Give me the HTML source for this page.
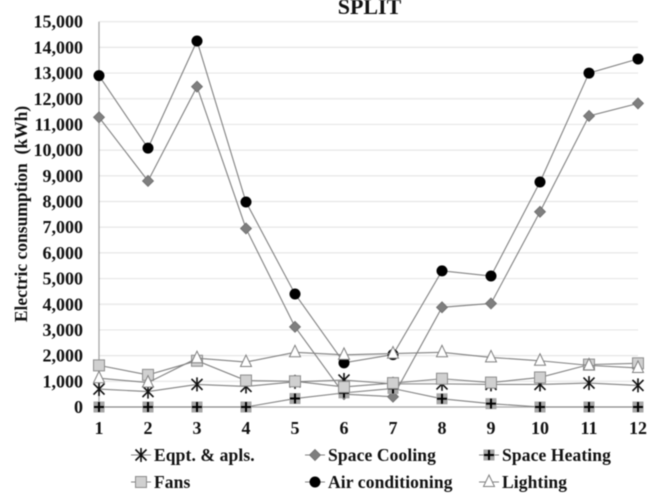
<!DOCTYPE html>
<html>
<head>
<meta charset="utf-8">
<title>SPLIT</title>
<style>
html,body{margin:0;padding:0;background:#fff;width:668px;height:497px;overflow:hidden}
svg{display:block;filter:blur(0.45px)}
text{font-family:"Liberation Serif",serif;font-weight:bold;fill:#111}
</style>
</head>
<body>
<svg id="chart" width="668" height="497" viewBox="0 0 668 497" xmlns="http://www.w3.org/2000/svg">
<text x="369.5" y="14" font-size="22" text-anchor="middle">SPLIT</text>
<text transform="translate(27,214) rotate(-90)" font-size="17.5" text-anchor="middle" xml:space="preserve">Electric consumption  (kWh)</text>
</svg>
<script>
const months = ['1','2','3','4','5','6','7','8','9','10','11','12'];
const yTicks = [0,1000,2000,3000,4000,5000,6000,7000,8000,9000,10000,11000,12000,13000,14000,15000];
const eqpt = [700,600,880,800,980,1050,900,900,880,880,930,840];
const spaceCooling = [11280,8800,12470,6950,3120,500,400,3880,4030,7600,11330,11820];
const spaceHeating = [0,0,0,0,330,550,720,320,130,0,0,0];
const fans = [1620,1250,1800,1030,1000,780,930,1100,950,1150,1650,1700];
const airConditioning = [12900,10080,14250,7980,4400,1720,2040,5300,5100,8760,13000,13550];
const lighting = [1120,950,1900,1750,2130,2030,2080,2130,1930,1800,1620,1520];

const svg = document.getElementById('chart');
const NS = 'http://www.w3.org/2000/svg';
const xScale = i => 99 + i * (638 - 99) / (months.length - 1);
const yScale = v => 407 - v * (407 - 21.7) / 15000;

function mk(tag, attrs, parent) {
  const el = document.createElementNS(NS, tag);
  for (const k in attrs) el.setAttribute(k, attrs[k]);
  (parent || svg).appendChild(el);
  return el;
}

yTicks.forEach(function (t) {
  const y = yScale(t);
  if (t > 0) {
    const g = mk('line', {x1: 99, x2: 638, y1: y, y2: y, stroke: '#e6e6e6', 'stroke-width': 1.2});
    
    
  }
  const lbl = mk('text', {x: 83, y: y + 6, 'font-size': 18, 'text-anchor': 'end'});
  lbl.textContent = t.toLocaleString('en-US');
  
  
});

const yAxis = mk('line', {x1: 99, x2: 99, y1: yScale(15000), y2: yScale(0), stroke: '#a6a6a6', 'stroke-width': 1.3});


const xAxis = mk('line', {x1: 99, x2: 638, y1: yScale(0), y2: yScale(0), stroke: '#a6a6a6', 'stroke-width': 1.3});



months.forEach(function (m, i) {
  const lbl = mk('text', {x: xScale(i), y: 434, 'font-size': 18, 'text-anchor': 'middle'});
  lbl.textContent = m;
  
  
});

function marker(kind, x, y, parent) {
  if (kind === 'star') {
    const d = 'M' + (x - 5.5) + ' ' + (y - 5.5) + 'L' + (x + 5.5) + ' ' + (y + 5.5) +
      'M' + (x - 5.5) + ' ' + (y + 5.5) + 'L' + (x + 5.5) + ' ' + (y - 5.5) +
      'M' + x + ' ' + (y - 7) + 'L' + x + ' ' + (y + 7);
    mk('path', {d: d, stroke: '#111', 'stroke-width': 1.6, fill: 'none'}, parent);
  } else if (kind === 'diamond') {
    const d = 'M' + x + ' ' + (y - 5.5) + 'L' + (x + 5.5) + ' ' + y + 'L' + x + ' ' + (y + 5.5) + 'L' + (x - 5.5) + ' ' + y + 'Z';
    mk('path', {d: d, fill: '#7f7f7f', stroke: '#6e6e6e', 'stroke-width': 0.8}, parent);
  } else if (kind === 'plus') {
    mk('rect', {x: x - 5.5, y: y - 5.5, width: 11, height: 11, fill: '#a6a6a6'}, parent);
    const d = 'M' + (x - 5) + ' ' + y + 'L' + (x + 5) + ' ' + y + 'M' + x + ' ' + (y - 5) + 'L' + x + ' ' + (y + 5);
    mk('path', {d: d, stroke: '#000', 'stroke-width': 2, fill: 'none'}, parent);
  } else if (kind === 'square') {
    mk('rect', {x: x - 5.5, y: y - 5.5, width: 11, height: 11, fill: '#d0d0d0', stroke: '#8c8c8c', 'stroke-width': 1}, parent);
  } else if (kind === 'circle') {
    mk('circle', {cx: x, cy: y, r: 5.5, fill: '#000'}, parent);
  } else if (kind === 'triangle') {
    const d = 'M' + x + ' ' + (y - 7) + 'L' + (x + 5.5) + ' ' + (y + 4.5) + 'L' + (x - 5.5) + ' ' + (y + 4.5) + 'Z';
    mk('path', {d: d, fill: '#fff', stroke: '#7f7f7f', 'stroke-width': 1}, parent);
  }
}

function drawSeries(values, kind) {
  const g = mk('g', {});
  
  
  const pts = values.map(function (v, i) { return xScale(i) + ',' + yScale(v); }).join(' ');
  mk('polyline', {points: pts, fill: 'none', stroke: '#808080', 'stroke-width': 1.1}, g);
  values.forEach(function (v, i) { marker(kind, xScale(i), yScale(v), g); });
}

drawSeries(eqpt, 'star');
drawSeries(spaceCooling, 'diamond');
drawSeries(spaceHeating, 'plus');
drawSeries(fans, 'square');
drawSeries(airConditioning, 'circle');
drawSeries(lighting, 'triangle');

const legendNames = ['Eqpt. & apls.', 'Space Cooling', 'Space Heating', 'Fans', 'Air conditioning', 'Lighting'];
const legendKinds = ['star', 'diamond', 'plus', 'square', 'circle', 'triangle'];
legendNames.forEach(function (name, i) {
  const cx = [141, 315, 489][i % 3];
  const cy = i < 3 ? 455 : 482;
  const g = mk('g', {});
  
  
  mk('line', {x1: cx - 10, x2: cx + 10, y1: cy, y2: cy, stroke: '#808080', 'stroke-width': 1.1}, g);
  marker(legendKinds[i], cx, cy, g);
  const t = mk('text', {x: cx + 13, y: cy + 6, 'font-size': 17.5, 'letter-spacing': 0.12}, g);
  t.textContent = name;
});
</script>
</body>
</html>
